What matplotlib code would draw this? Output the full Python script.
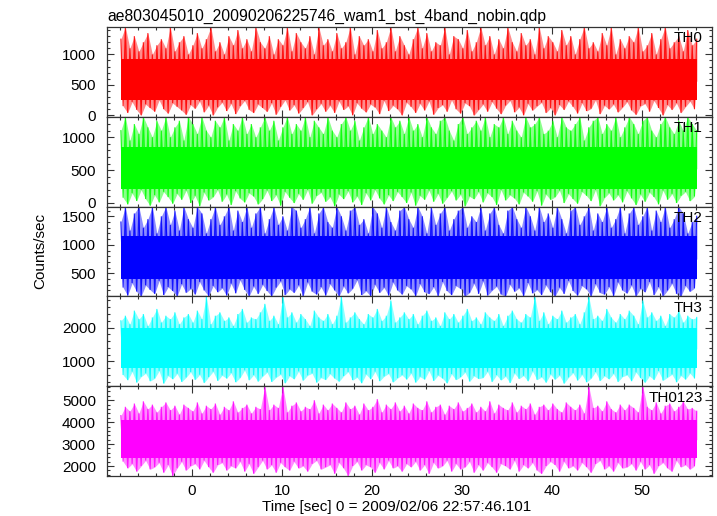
import matplotlib
matplotlib.use('Agg')
import matplotlib.pyplot as plt
import numpy as np
from matplotlib.ticker import MultipleLocator

plt.rcParams['font.family'] = ['Liberation Sans', 'DejaVu Sans']

# ---------------- data (read/estimated from the picture) ----------------
title = "ae803045010_20090206225746_wam1_bst_4band_nobin.qdp"
band_names = ["TH0", "TH1", "TH2", "TH3", "TH0123"]
colors = ["#ff0000", "#00ff00", "#0000ff", "#00ffff", "#ff00ff"]
t_start = -7.9   # first time bin [sec]
step = 0.5       # spacing of successive peaks (and of successive dips) [sec]

# peak values, one every 0.5 s
hi0 = [1250, 1450, 1100, 1300, 1050, 1200, 1350, 1000, 1150, 1250, 1100, 1450, 1050, 1200, 1300, 1000,
       1150, 1350, 1100, 1250, 1450, 1050, 1200, 1000, 1300, 1150, 1400, 1100, 1250, 1050, 1450, 1200,
       1100, 1300, 1000, 1250, 1150, 1450, 1050, 1350, 1200, 1100, 1300, 1000, 1450, 1150, 1250, 1050,
       1350, 1100, 1200, 1450, 1000, 1300, 1150, 1250, 1050, 1400, 1100, 1200, 1450, 1050, 1300, 1150,
       1000, 1250, 1450, 1100, 1350, 1050, 1200, 1150, 1450, 1000, 1300, 1250, 1100, 1400, 1050, 1200,
       1450, 1150, 1300, 1000, 1250, 1100, 1450, 1200, 1050, 1350, 1150, 1250, 1000, 1450, 1100, 1300,
       1200, 1050, 1400, 1150, 1300, 1000, 1250, 1450, 1100, 1200, 1050, 1350, 1150, 1450, 1000, 1250,
       1100, 1300, 1200, 1450, 1050, 1150, 1350, 1000, 1250, 1450, 1100, 1200, 1300, 1050, 1400, 1150,
       1250]
hi1 = [1100, 1310, 950, 1200, 1050, 1310, 1150, 1000, 1250, 1100, 1310, 1000, 1150, 1250, 950, 1310,
       1200, 1050, 1310, 1100, 1000, 1250, 1150, 1310, 950, 1200, 1100, 1310, 1050, 1200, 1000, 1150,
       1310, 1100, 1250, 950, 1150, 1310, 1050, 1200, 1100, 1310, 1000, 1250, 1150, 1050, 1310, 1100,
       1000, 1200, 1310, 1100, 1250, 950, 1150, 1310, 1050, 1200, 1100, 1000, 1310, 1150, 1250, 1050,
       1310, 1100, 1200, 1000, 1310, 1150, 1050, 1250, 1310, 1100, 950, 1200, 1310, 1050, 1150, 1250,
       1100, 1310, 1000, 1200, 1150, 1310, 1050, 1250, 1100, 1000, 1310, 1150, 1200, 1310, 1050, 1100,
       1250, 1000, 1310, 1150, 1100, 1200, 1310, 950, 1150, 1250, 1310, 1050, 1200, 1100, 1310, 1000,
       1150, 1310, 1200, 1050, 1250, 1310, 1100, 1000, 1200, 1310, 1150, 1050, 1250, 1100, 1310, 1200,
       1100]
hi2 = [1400, 1670, 1250, 1550, 1670, 1300, 1450, 1670, 1200, 1500, 1670, 1350, 1600, 1250, 1670, 1450,
       1300, 1670, 1550, 1200, 1450, 1670, 1350, 1500, 1670, 1250, 1600, 1400, 1670, 1300, 1550, 1670,
       1200, 1450, 1670, 1350, 1500, 1250, 1670, 1600, 1300, 1450, 1670, 1200, 1550, 1670, 1400, 1300,
       1670, 1500, 1250, 1600, 1670, 1350, 1450, 1200, 1670, 1550, 1300, 1670, 1400, 1250, 1600, 1670,
       1450, 1300, 1670, 1500, 1200, 1670, 1350, 1550, 1670, 1250, 1450, 1600, 1670, 1300, 1500, 1400,
       1670, 1250, 1550, 1670, 1350, 1200, 1600, 1670, 1450, 1300, 1670, 1500, 1250, 1670, 1400, 1550,
       1300, 1670, 1450, 1200, 1600, 1670, 1350, 1500, 1670, 1250, 1550, 1400, 1670, 1300, 1450, 1670,
       1200, 1550, 1670, 1350, 1500, 1670, 1250, 1600, 1400, 1670, 1300, 1450, 1670, 1550, 1200, 1400,
       1500]
hi3 = [2200, 2350, 2100, 2500, 2250, 2400, 2050, 2300, 2550, 2150, 2350, 2250, 2450, 2100, 2300, 2400,
       2150, 2500, 2250, 2920, 2100, 2350, 2450, 2200, 2300, 2050, 2400, 2550, 2150, 2300, 2250, 2450,
       2700, 2200, 2350, 2100, 2920, 2300, 2450, 2150, 2400, 2250, 2050, 2500, 2300, 2200, 2400, 2100,
       2350, 2920, 2150, 2300, 2450, 2250, 2100, 2400, 2300, 2550, 2200, 2350, 2800, 2150, 2300, 2450,
       2250, 2400, 2100, 2350, 2500, 2200, 2300, 2050, 2450, 2250, 2400, 2150, 2350, 2550, 2200, 2300,
       2100, 2450, 2300, 2200, 2400, 2050, 2350, 2500, 2250, 2150, 2400, 2300, 2920, 2200, 2450, 2100,
       2350, 2250, 2500, 2150, 2300, 2400, 2100, 2450, 2920, 2250, 2350, 2200, 2550, 2300, 2150, 2400,
       2250, 2500, 2350, 2100, 2800, 2300, 2450, 2200, 2350, 2050, 2400, 2300, 2500, 2150, 2350, 2250,
       2300]
hi4 = [4300, 4700, 4500, 4850, 4400, 4950, 4600, 4800, 4450, 4700, 4900, 4550, 4750, 4350, 4800, 4650,
       4500, 4900, 4400, 4750, 4600, 4850, 4350, 4700, 4550, 4950, 4450, 4650, 4800, 4400, 4700, 4600,
       5640, 4550, 4800, 4650, 5640, 4450, 4750, 4900, 4500, 4700, 4600, 5000, 4400, 4800, 4550, 4850,
       4650, 4450, 4900, 4600, 4750, 4350, 4850, 4550, 4700, 5050, 4450, 4800, 4600, 4900, 4500, 4750,
       4400, 4850, 4650, 4550, 4950, 4450, 4700, 4800, 4350, 4750, 4600, 4900, 4500, 4650, 4850, 4450,
       4700, 4500, 4950, 4400, 4800, 4650, 4550, 4900, 4450, 4750, 4600, 4850, 4350, 4700, 4800, 4550,
       4850, 4600, 4450, 4900, 4700, 4550, 4800, 4400, 5640, 4650, 4750, 4500, 4950, 4600, 4450, 4800,
       4550, 4800, 4650, 4450, 5640, 4700, 4550, 4900, 4400, 4750, 4850, 4500, 4700, 4950, 4600, 4650,
       4500]

# dip values, each a quarter second after the matching peak
lo0 = [150, 40, 220, 90, 0, 180, 120, 60, 250, 100, 30, 200, 140, 80, 10, 170,
       110, 230, 50, 160, 0, 130, 210, 70, 190, 20, 150, 240, 90, 40, 180, 120,
       60, 200, 10, 140, 250, 80, 170, 30, 120, 220, 0, 100, 190, 60, 160, 40,
       230, 90, 150, 0, 200, 110, 50, 180, 130, 20, 240, 70, 160, 100, 0, 210,
       140, 40, 190, 80, 230, 10, 120, 170, 60, 250, 100, 30, 200, 150, 0, 90,
       180, 60, 220, 110, 20, 160, 240, 50, 130, 0, 190, 80, 150, 210, 40, 120,
       0, 170, 90, 230, 140, 30, 200, 70, 110, 250, 20, 160, 100, 180, 50, 130,
       220, 80, 10, 150, 190, 60, 240, 120, 0, 170, 90, 200, 40, 140, 230, 100]
lo1 = [80, -20, 150, 30, 200, 60, -40, 120, 10, 170, 90, -10, 140, 50, 190, 0,
       110, -50, 160, 40, 90, 200, 20, 130, -30, 180, 70, 10, 150, 100, -20, 60,
       190, 30, 120, -40, 170, 80, 0, 140, 50, 200, -10, 110, 160, 20, 90, -50,
       130, 60, 180, 10, 100, -30, 150, 40, 200, 70, -20, 120, 30, 170, 90, 0,
       160, -40, 110, 50, 190, 20, 140, -10, 80, 180, 40, 130, -50, 100, 60, 170,
       10, 150, 90, -30, 200, 40, 120, 70, -20, 160, 100, 20, 180, -40, 130, 50,
       90, 190, 0, 140, 60, -10, 170, 110, 30, 200, -50, 80, 150, 40, 120, 10,
       180, 70, -30, 130, 20, 160, 90, -20, 190, 50, 140, 0, 110, 170, 30, 100]
lo2 = [250, 110, 330, 180, 100, 290, 210, 140, 370, 120, 260, 190, 100, 310, 160, 230,
       130, 350, 200, 100, 280, 170, 240, 110, 320, 150, 380, 210, 100, 270, 140, 300,
       190, 100, 250, 360, 120, 220, 160, 290, 100, 340, 180, 130, 260, 110, 310, 200,
       100, 270, 150, 230, 380, 120, 190, 100, 300, 160, 250, 110, 340, 200, 130, 280,
       220, 100, 310, 170, 140, 260, 100, 350, 190, 120, 280, 230, 100, 160, 320, 140,
       360, 110, 200, 270, 130, 100, 300, 180, 240, 100, 330, 150, 210, 120, 290, 170,
       100, 250, 140, 370, 190, 110, 280, 220, 100, 310, 160, 130, 260, 100, 340, 200,
       150, 290, 100, 230, 170, 350, 120, 260, 100, 200, 320, 140, 100, 280, 180, 240]
lo3 = [600, 450, 700, 380, 550, 650, 420, 500, 720, 350, 580, 480, 640, 400, 530, 690,
       460, 610, 370, 540, 700, 430, 590, 500, 660, 390, 520, 740, 450, 600, 410, 560,
       680, 400, 530, 620, 360, 570, 480, 710, 440, 590, 650, 380, 520, 460, 630, 500,
       410, 570, 690, 450, 530, 360, 620, 480, 700, 420, 560, 640, 390, 510, 600, 470,
       650, 380, 550, 470, 720, 430, 590, 500, 360, 630, 460, 540, 680, 410, 570, 490,
       520, 700, 400, 600, 450, 560, 370, 650, 490, 580, 420, 710, 460, 540, 380, 620,
       470, 590, 350, 530, 660, 440, 610, 390, 500, 690, 430, 570, 480, 640, 400, 550,
       600, 420, 680, 510, 380, 570, 460, 720, 440, 530, 620, 390, 580, 470, 650, 500]
lo4 = [2200, 1900, 2100, 1750, 2000, 2250, 1850, 1950, 2150, 1700, 2050, 1550, 1900, 2200, 1800, 2000,
       2100, 1850, 2250, 1950, 1700, 2050, 2150, 1800, 2000, 1900, 2200, 1750, 2100, 1650, 1950, 2250,
       1850, 2050, 1700, 2150, 1950, 1800, 2200, 1900, 2000, 1750, 2100, 2250, 1850, 1950, 2050, 1650,
       2150, 1900, 1550, 2000, 2200, 1800, 2050, 1950, 1700, 2150, 1850, 2250, 1900, 2000, 1750, 2100,
       1950, 2200, 1800, 2050, 1650, 2150, 1900, 2000, 2250, 1750, 2100, 1850, 1950, 2200, 1700, 2050,
       1800, 2150, 1950, 1700, 2100, 2000, 1850, 2250, 1750, 2050, 1900, 2150, 1800, 1650, 2000, 2200,
       2050, 1750, 2200, 1900, 2000, 1800, 2150, 1950, 1700, 2100, 2250, 1850, 2000, 1750, 2150, 1900,
       1950, 2100, 1800, 2200, 1850, 2050, 1650, 2000, 2150, 1900, 1750, 2250, 1950, 2050, 1850, 2000]

his = [hi0, hi1, hi2, hi3, hi4]
los = [lo0, lo1, lo2, lo3, lo4]

# mean level and dense, fully saturated core of each band
mean_rate = [560, 520, 750, 1370, 3200]
core_lo = [250, 220, 400, 800, 2350]
core_hi = [920, 850, 1150, 2000, 4100]

ylims = [(-25, 1450), (-55, 1310), (95, 1670), (270, 2920), (1545, 5640)]
y_major = [500, 500, 500, 1000, 1000]
y_minor = [100, 100, 100, 200, 200]
xlim = (-9.44, 57.8)

# ---------------- figure ----------------
W, H = 717, 516
fig = plt.figure(figsize=(W / 100, H / 100), dpi=100)
left, right = 107, 712
top, bottom = 27, 476
n = len(band_names)
ph = (bottom - top) / n
fs = 11

for k in range(n):
    y0 = top + k * ph
    ax = fig.add_axes([left / W, 1 - (y0 + ph) / H, (right - left) / W, ph / H])
    c = colors[k]
    hi = np.asarray(his[k], float)
    lo = np.asarray(los[k], float)
    t_hi = t_start + step * np.arange(len(hi))
    t_lo = t_start + step / 2 + step * np.arange(len(lo))
    x = np.empty(len(hi) + len(lo))
    y = np.empty_like(x)
    x[0::2] = t_hi
    x[1::2] = t_lo
    y[0::2] = hi
    y[1::2] = lo
    t_end = t_hi[-1]
    # light envelope through the peaks and through the dips
    ax.fill_between(t_hi, hi, mean_rate[k], color=c, alpha=0.45, lw=0)
    ax.fill_between(t_lo, lo, mean_rate[k], color=c, alpha=0.45, lw=0)
    # the light curve itself
    ax.fill_between(x, y, mean_rate[k], color=c, alpha=0.6, lw=0)
    ax.plot(x, y, color=c, lw=0.8, alpha=0.85, solid_joinstyle='miter')
    ax.fill_between([t_start, t_end], core_lo[k], core_hi[k], color=c, lw=0)

    ax.set_xlim(*xlim)
    ax.set_ylim(*ylims[k])
    ax.xaxis.set_major_locator(MultipleLocator(10))
    ax.xaxis.set_minor_locator(MultipleLocator(2))
    ax.yaxis.set_major_locator(MultipleLocator(y_major[k]))
    ax.yaxis.set_minor_locator(MultipleLocator(y_minor[k]))
    ax.tick_params(which='both', direction='in', top=True, right=True,
                   color='#333333', width=0.8, labelsize=fs, pad=8)
    ax.tick_params(which='major', length=5)
    ax.tick_params(which='minor', length=2.5)
    ax.tick_params(axis='x', pad=5.5)
    if k < n - 1:
        ax.tick_params(axis='x', labelbottom=False)
    for s in ax.spines.values():
        s.set_color('#333333')
        s.set_linewidth(0.9)
    ax.text(0.985, 0.95, band_names[k], transform=ax.transAxes,
            ha='right', va='top', fontsize=fs, color='black')
    if k == 0:
        ax.text(0.0, 1.03, title, transform=ax.transAxes, ha='left', va='bottom',
                fontsize=11.3)

fig.text(40 / W, 1 - 251 / H, "Counts/sec", rotation=90, ha='center', va='center',
         fontsize=fs)
fig.text(397 / W, 1 - 507 / H, "Time [sec] 0 = 2009/02/06 22:57:46.101",
         ha='center', va='center', fontsize=fs)

fig.savefig("out.png", dpi=100, facecolor='white')
